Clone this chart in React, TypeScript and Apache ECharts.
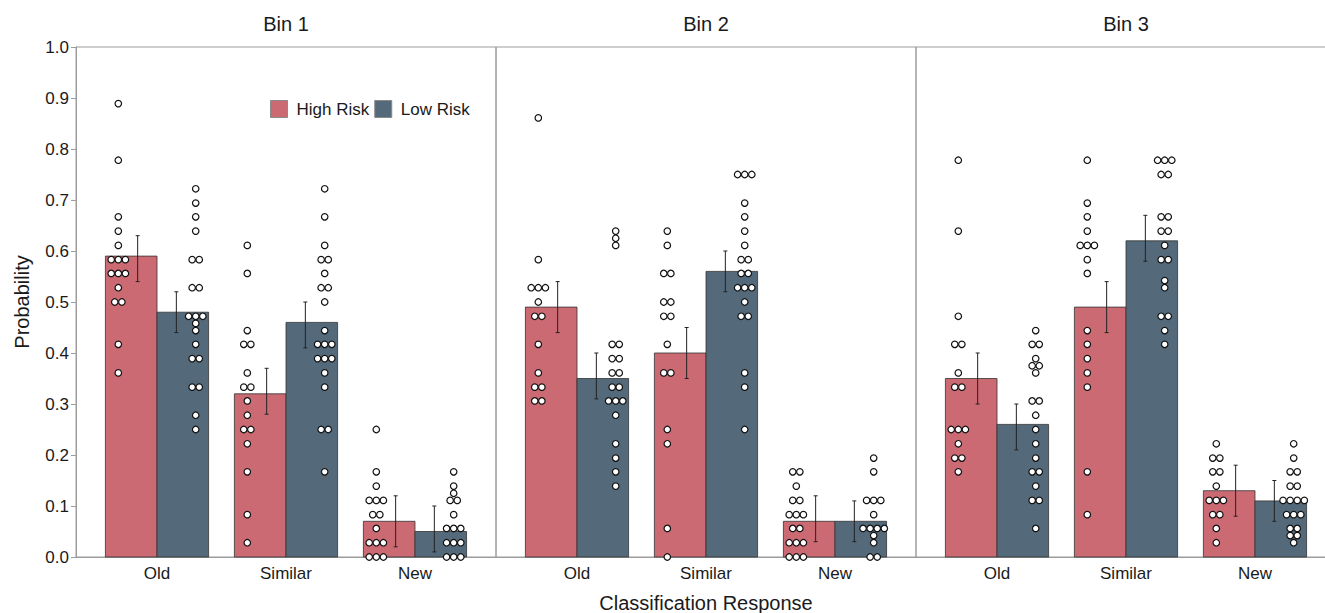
import React, { useEffect, useRef } from "react";
import * as echarts from "echarts";

const categories = ["Old", "Similar", "New"];
const binTitles = ["Bin 1", "Bin 2", "Bin 3"];
const seriesNames = ["High Risk", "Low Risk"];

// bar means per bin [Old, Similar, New]
const highMeans = [
  [0.59, 0.32, 0.07],
  [0.49, 0.4, 0.07],
  [0.35, 0.49, 0.13],
];
const lowMeans = [
  [0.48, 0.46, 0.05],
  [0.35, 0.56, 0.07],
  [0.26, 0.62, 0.11],
];
// error bar bounds
const highErrLo = [
  [0.54, 0.28, 0.02],
  [0.44, 0.35, 0.03],
  [0.3, 0.44, 0.08],
];
const highErrHi = [
  [0.63, 0.37, 0.12],
  [0.54, 0.45, 0.12],
  [0.4, 0.54, 0.18],
];
const lowErrLo = [
  [0.44, 0.41, 0.01],
  [0.31, 0.52, 0.03],
  [0.21, 0.58, 0.07],
];
const lowErrHi = [
  [0.52, 0.5, 0.1],
  [0.4, 0.6, 0.11],
  [0.3, 0.67, 0.15],
];

// individual participant points
const bin1HighDots = [
  [0.889, 0.778, 0.667, 0.639, 0.611, 0.583, 0.583, 0.583, 0.556, 0.556, 0.556, 0.528, 0.5, 0.5, 0.417, 0.361],
  [0.611, 0.556, 0.444, 0.417, 0.417, 0.361, 0.333, 0.333, 0.306, 0.278, 0.25, 0.25, 0.222, 0.167, 0.083, 0.028],
  [0.25, 0.167, 0.139, 0.111, 0.111, 0.111, 0.083, 0.083, 0.056, 0.028, 0.028, 0.028, 0, 0, 0],
];
const bin1LowDots = [
  [0.722, 0.694, 0.667, 0.639, 0.583, 0.583, 0.528, 0.528, 0.472, 0.472, 0.472, 0.458, 0.444, 0.417, 0.389, 0.389, 0.333, 0.333, 0.278, 0.25],
  [0.722, 0.667, 0.611, 0.583, 0.583, 0.556, 0.528, 0.528, 0.5, 0.444, 0.417, 0.417, 0.417, 0.389, 0.389, 0.389, 0.361, 0.333, 0.25, 0.25, 0.167],
  [0.167, 0.139, 0.125, 0.111, 0.111, 0.083, 0.056, 0.056, 0.056, 0.028, 0.028, 0.028, 0, 0, 0],
];
const bin2HighDots = [
  [0.861, 0.583, 0.528, 0.528, 0.528, 0.5, 0.472, 0.472, 0.417, 0.361, 0.333, 0.333, 0.306, 0.306],
  [0.639, 0.611, 0.556, 0.556, 0.5, 0.5, 0.472, 0.472, 0.417, 0.361, 0.361, 0.25, 0.222, 0.056, 0],
  [0.167, 0.167, 0.139, 0.111, 0.111, 0.083, 0.083, 0.083, 0.056, 0.056, 0.028, 0.028, 0.028, 0, 0, 0],
];
const bin2LowDots = [
  [0.639, 0.625, 0.611, 0.417, 0.417, 0.389, 0.389, 0.361, 0.361, 0.333, 0.333, 0.306, 0.306, 0.306, 0.278, 0.222, 0.194, 0.167, 0.139],
  [0.75, 0.75, 0.75, 0.694, 0.667, 0.639, 0.611, 0.583, 0.583, 0.556, 0.556, 0.528, 0.528, 0.528, 0.5, 0.472, 0.472, 0.361, 0.333, 0.25],
  [0.194, 0.167, 0.111, 0.111, 0.111, 0.083, 0.056, 0.056, 0.056, 0.056, 0.042, 0.028, 0, 0],
];
const bin3HighDots = [
  [0.778, 0.639, 0.472, 0.417, 0.417, 0.361, 0.333, 0.333, 0.25, 0.25, 0.25, 0.222, 0.194, 0.194, 0.167],
  [0.778, 0.694, 0.667, 0.639, 0.611, 0.611, 0.611, 0.583, 0.556, 0.444, 0.417, 0.389, 0.361, 0.333, 0.167, 0.083],
  [0.222, 0.194, 0.194, 0.167, 0.167, 0.139, 0.111, 0.111, 0.111, 0.083, 0.083, 0.056, 0.028],
];
const bin3LowDots = [
  [0.444, 0.417, 0.417, 0.389, 0.375, 0.375, 0.361, 0.306, 0.306, 0.278, 0.25, 0.222, 0.194, 0.167, 0.167, 0.139, 0.111, 0.111, 0.056],
  [0.778, 0.778, 0.778, 0.75, 0.75, 0.667, 0.667, 0.639, 0.639, 0.611, 0.583, 0.583, 0.542, 0.528, 0.472, 0.472, 0.444, 0.417],
  [0.222, 0.194, 0.167, 0.167, 0.139, 0.139, 0.111, 0.111, 0.111, 0.111, 0.083, 0.083, 0.083, 0.056, 0.056, 0.042, 0.042, 0.028],
];

const highDots = [bin1HighDots, bin2HighDots, bin3HighDots];
const lowDots = [bin1LowDots, bin2LowDots, bin3LowDots];

const COLORS = ["#CC6A73", "#546A7B"];
const FRAME = "#9c9c9c";
const TEXT = "#1a1a1a";
const FONT = "Liberation Sans, Arial, sans-serif";

const PANEL_LEFT = 76;
const PANEL_W = 420;
const PANEL_TOP = 47;
const PANEL_H = 510;
const X_MIN = -0.628;
const X_MAX = 2.628;
const BAR_HALF = 0.2;
const ERR_OFF = 0.15;
const DOT_OFF = 0.3;
const DOT_STEP = 0.055;

function dotPoints(groups: number[][], side: number) {
  const pts: number[][] = [];
  groups.forEach((vals, c) => {
    const counts: Record<string, number> = {};
    vals.forEach((v) => {
      counts[v.toFixed(3)] = (counts[v.toFixed(3)] || 0) + 1;
    });
    const seen: Record<string, number> = {};
    vals.forEach((v) => {
      const key = v.toFixed(3);
      const n = counts[key];
      const k = seen[key] || 0;
      seen[key] = k + 1;
      const x = c + side * DOT_OFF + (k - (n - 1) / 2) * DOT_STEP;
      pts.push([x, v]);
    });
  });
  return pts;
}

function barRender(color: string) {
  return (params: any, api: any) => {
    const x = api.value(0);
    const y = api.value(1);
    const p0 = api.coord([x - BAR_HALF, y]);
    const p1 = api.coord([x + BAR_HALF, 0]);
    return {
      type: "rect",
      shape: { x: p0[0], y: p0[1], width: p1[0] - p0[0], height: p1[1] - p0[1] },
      style: { fill: color, stroke: "#333333", lineWidth: 0.8 },
    };
  };
}

function errRender(params: any, api: any) {
  const x = api.value(0);
  const lo = api.value(1);
  const hi = api.value(2);
  const t = api.coord([x, hi]);
  const b = api.coord([x, lo]);
  const st = { stroke: "#222", lineWidth: 1 };
  return {
    type: "group",
    children: [
      { type: "line", shape: { x1: t[0], y1: t[1], x2: b[0], y2: b[1] }, style: st },
      { type: "line", shape: { x1: t[0] - 2, y1: t[1], x2: t[0] + 2, y2: t[1] }, style: st },
      { type: "line", shape: { x1: b[0] - 2, y1: b[1], x2: b[0] + 2, y2: b[1] }, style: st },
    ],
  };
}

function buildOption() {
  const grid: any[] = [];
  const xAxis: any[] = [];
  const yAxis: any[] = [];
  const series: any[] = [];
  const graphic: any[] = [];

  for (let i = 0; i < 3; i++) {
    grid.push({
      left: PANEL_LEFT + PANEL_W * i,
      top: PANEL_TOP,
      width: PANEL_W,
      height: PANEL_H,
      show: true,
      borderColor: FRAME,
      borderWidth: 1,
      backgroundColor: "transparent",
      containLabel: false,
      outerBoundsMode: "none",
    });
    xAxis.push({
      gridIndex: i,
      type: "value",
      min: X_MIN,
      max: X_MAX,
      axisLine: { show: true, onZero: false, lineStyle: { color: FRAME, width: 1 } },
      axisTick: { show: false },
      splitLine: { show: false },
      axisLabel: {
        customValues: [0, 1, 2],
        formatter: (v: number) => categories[Math.round(v)],
        color: TEXT,
        fontSize: 17,
        fontFamily: FONT,
        margin: 8,
      },
      name: i === 1 ? "Classification Response" : "",
      nameLocation: "middle",
      nameGap: 36,
      nameTextStyle: { fontSize: 20, color: TEXT, fontFamily: FONT },
    });
    yAxis.push({
      gridIndex: i,
      type: "value",
      min: 0,
      max: 1,
      interval: 0.1,
      show: i === 0,
      axisLine: { show: true, onZero: false, lineStyle: { color: FRAME, width: 1 } },
      axisTick: { show: true, length: 5, lineStyle: { color: FRAME } },
      splitLine: { show: false },
      axisLabel: {
        formatter: (v: number) => v.toFixed(1),
        color: TEXT,
        fontSize: 17,
        fontFamily: FONT,
        margin: 7,
      },
      name: i === 0 ? "Probability" : "",
      nameLocation: "middle",
      nameGap: 44,
      nameTextStyle: { fontSize: 20, color: TEXT, fontFamily: FONT },
    });

    graphic.push({
      type: "text",
      x: PANEL_LEFT + PANEL_W * i + PANEL_W / 2,
      y: 14,
      style: {
        text: binTitles[i],
        align: "center",
        verticalAlign: "top",
        fontSize: 20,
        fontFamily: FONT,
        fill: TEXT,
      },
    });

    const meansList = [highMeans[i], lowMeans[i]];
    const loList = [highErrLo[i], lowErrLo[i]];
    const hiList = [highErrHi[i], lowErrHi[i]];
    const dotsList = [highDots[i], lowDots[i]];

    for (let s = 0; s < 2; s++) {
      const side = s === 0 ? -1 : 1;
      series.push({
        type: "custom",
        name: seriesNames[s],
        xAxisIndex: i,
        yAxisIndex: i,
        itemStyle: { color: COLORS[s] },
        z: 2,
        renderItem: barRender(COLORS[s]),
        data: meansList[s].map((v, c) => [c + side * BAR_HALF, v]),
      });
    }
    for (let s = 0; s < 2; s++) {
      const side = s === 0 ? -1 : 1;
      series.push({
        type: "custom",
        name: seriesNames[s] + " SE",
        xAxisIndex: i,
        yAxisIndex: i,
        z: 3,
        renderItem: errRender,
        data: loList[s].map((lo, c) => [c + side * ERR_OFF, lo, hiList[s][c]]),
      });
    }
    for (let s = 0; s < 2; s++) {
      const side = s === 0 ? -1 : 1;
      series.push({
        type: "scatter",
        name: seriesNames[s] + " points",
        xAxisIndex: i,
        yAxisIndex: i,
        z: 4,
        symbol: "circle",
        symbolSize: 6.5,
        itemStyle: { color: "#ffffff", borderColor: "#111111", borderWidth: 1.2, opacity: 1 },
        data: dotPoints(dotsList[s], side),
      });
    }
  }

  return {
    animation: false,
    backgroundColor: "#ffffff",
    textStyle: { fontFamily: FONT },
    grid,
    xAxis,
    yAxis,
    series,
    graphic,
    legend: {
      left: 270,
      top: 100,
      padding: 0,
      itemWidth: 17,
      itemHeight: 17,
      itemGap: 5,
      selectedMode: false,
      icon: "rect",
      textStyle: { fontSize: 17, color: TEXT, fontFamily: FONT, padding: [0, 0, 0, 4] },
      data: [
        { name: seriesNames[0], itemStyle: { color: COLORS[0], borderColor: "#8a8a8a", borderWidth: 1 } },
        { name: seriesNames[1], itemStyle: { color: COLORS[1], borderColor: "#8a8a8a", borderWidth: 1 } },
      ],
    },
  };
}

export default function App() {
  const ref = useRef<HTMLDivElement>(null);
  useEffect(() => {
    if (!ref.current) return;
    const chart = echarts.init(ref.current, undefined, { renderer: "svg" });
    chart.setOption(buildOption() as any);
    return () => chart.dispose();
  }, []);
  return (
    <div
      ref={ref}
      style={{ position: "absolute", left: 0, top: 0, width: 1325, height: 613, background: "#fff" }}
    />
  );
}
